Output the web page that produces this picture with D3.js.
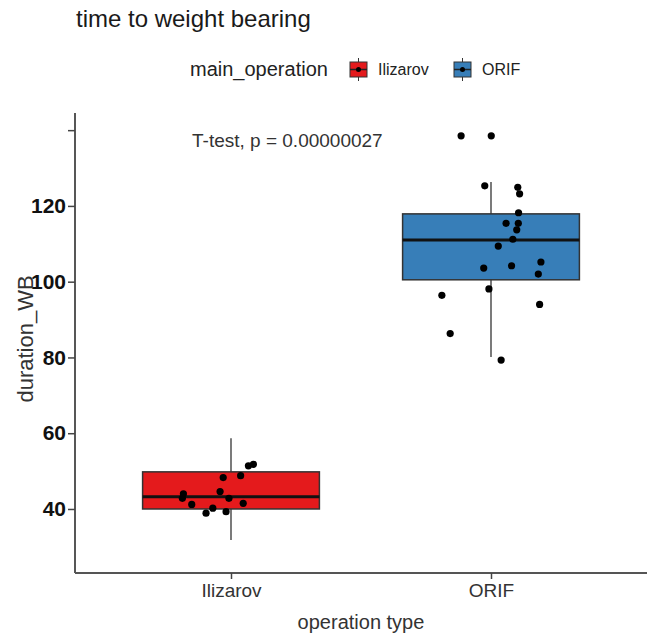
<!DOCTYPE html>
<html>
<head>
<meta charset="utf-8">
<script src="https://cdn.jsdelivr.net/npm/d3@7"></script>
<style>
  body { margin: 0; background: #fff; }
  text { font-family: "Liberation Sans", Arial, sans-serif; }
</style>
</head>
<body>
<div id="chart"></div>
<script>
const categories = ["Ilizarov", "ORIF"];
const boxColors = ["#E41A1C", "#377EB8"];

// box statistics
const whiskerLow = [31.8, 80.1];
const boxQ1 = [40.0, 100.5];
const boxMedian = [43.2, 111.0];
const boxQ3 = [49.8, 117.9];
const whiskerHigh = [58.7, 126.3];

// jittered points: value and horizontal jitter (fraction of the category step)
const ilizarovValues = [51.4, 51.8, 48.8, 48.3, 44.6, 44.0, 42.8, 42.8, 41.2, 41.5, 40.2, 38.9, 39.3];
const ilizarovJitter = [0.067, 0.086, 0.037, -0.030, -0.042, -0.183, -0.187, -0.008, -0.151, 0.047, -0.070, -0.096, -0.019];
const orifValues = [138.5, 138.5, 125.3, 124.9, 123.2, 118.2, 115.4, 115.4, 113.7, 111.2, 109.4, 103.6, 104.2, 105.2, 102.0, 98.1, 96.4, 94.0, 86.3, 79.3];
const orifJitter = [-0.115, 0.001, -0.024, 0.103, 0.110, 0.106, 0.105, 0.058, 0.099, 0.084, 0.028, -0.028, 0.079, 0.192, 0.182, -0.008, -0.189, 0.187, -0.157, 0.039];

const yTicks = [40, 60, 80, 100, 120, 140];
const yTickLabels = ["40", "60", "80", "100", "120", ""];

const width = 654, height = 637;

const svg = d3.select("#chart").append("svg")
    .attr("width", width)
    .attr("height", height);

const x = d3.scalePoint()
    .domain(categories)
    .range([75, 647])
    .padding(0.6);

const y = d3.scaleLinear()
    .domain([23.1, 144.0])
    .range([573, 115]);

const step = x.step();
const boxHalf = step * 0.34;

// title
svg.append("text")
    .attr("x", 76)
    .attr("y", 27)
    .attr("font-size", 24)
    .attr("fill", "#1a1a1a")
    .text("time to weight bearing");

// legend
const legend = svg.append("g");
legend.append("text")
    .attr("x", 190)
    .attr("y", 76)
    .attr("font-size", 20)
    .attr("fill", "#222")
    .text("main_operation");

const legendX = [350, 454];
categories.forEach(function (cat, i) {
    const k = legend.append("g").attr("transform", `translate(${legendX[i]},62)`);
    k.append("line")
        .attr("x1", 8.5).attr("x2", 8.5)
        .attr("y1", -4).attr("y2", 19)
        .attr("stroke", "#333").attr("stroke-width", 1);
    k.append("rect")
        .attr("width", 17).attr("height", 15)
        .attr("fill", boxColors[i])
        .attr("stroke", "#333").attr("stroke-width", 1);
    k.append("line")
        .attr("x1", 0).attr("x2", 17)
        .attr("y1", 7.5).attr("y2", 7.5)
        .attr("stroke", "#222").attr("stroke-width", 1.5);
    k.append("circle")
        .attr("cx", 8.5).attr("cy", 7.5).attr("r", 2.5)
        .attr("fill", "#000");
    legend.append("text")
        .attr("x", legendX[i] + 28)
        .attr("y", 75)
        .attr("font-size", 16)
        .attr("fill", "#222")
        .text(cat);
});

// axes
const yAxis = svg.append("g")
    .attr("transform", "translate(75,0)")
    .call(d3.axisLeft(y).tickValues(yTicks).tickSize(7).tickFormat((d, i) => yTickLabels[i]));
yAxis.select(".domain").attr("stroke", "#444").attr("stroke-width", 1.8)
    .attr("d", `M0,${y.range()[1] - 2}V${y.range()[0]}`);
yAxis.selectAll(".tick line").attr("stroke", "#444").attr("stroke-width", 1.5);
yAxis.selectAll(".tick text")
    .attr("x", -9)
    .attr("font-size", 21)
    .attr("font-weight", "bold")
    .attr("fill", "#111")
    .attr("font-family", "'Liberation Sans', Arial, sans-serif");

const xAxis = svg.append("g")
    .attr("transform", "translate(0,573)")
    .call(d3.axisBottom(x).tickSize(6));
xAxis.select(".domain").attr("stroke", "#555").attr("stroke-width", 2)
    .attr("d", "M75,0H647");
xAxis.selectAll(".tick line").attr("stroke", "#444").attr("stroke-width", 1.5);
xAxis.selectAll(".tick text")
    .attr("y", 11)
    .attr("font-size", 19)
    .attr("fill", "#333")
    .attr("font-family", "'Liberation Sans', Arial, sans-serif");

// axis titles
svg.append("text")
    .attr("x", 361)
    .attr("y", 629)
    .attr("text-anchor", "middle")
    .attr("font-size", 20)
    .attr("fill", "#333")
    .text("operation type");

svg.append("text")
    .attr("transform", "translate(33,339) rotate(-90)")
    .attr("text-anchor", "middle")
    .attr("font-size", 22)
    .attr("fill", "#333")
    .text("duration_WB");

// boxes
const boxes = svg.append("g");
categories.forEach(function (cat, i) {
    const cx = x(cat);
    boxes.append("line")
        .attr("x1", cx).attr("x2", cx)
        .attr("y1", y(whiskerHigh[i])).attr("y2", y(whiskerLow[i]))
        .attr("stroke", "#333").attr("stroke-width", 1.3);
    boxes.append("rect")
        .attr("x", cx - boxHalf)
        .attr("y", y(boxQ3[i]))
        .attr("width", boxHalf * 2)
        .attr("height", y(boxQ1[i]) - y(boxQ3[i]))
        .attr("fill", boxColors[i])
        .attr("stroke", "#333").attr("stroke-width", 1.5);
    boxes.append("line")
        .attr("x1", cx - boxHalf).attr("x2", cx + boxHalf)
        .attr("y1", y(boxMedian[i])).attr("y2", y(boxMedian[i]))
        .attr("stroke", "#111").attr("stroke-width", 3);
});

// points
const points = svg.append("g");
[[ilizarovValues, ilizarovJitter], [orifValues, orifJitter]].forEach(function (pair, i) {
    const cx = x(categories[i]);
    pair[0].forEach(function (v, j) {
        points.append("circle")
            .attr("cx", cx + pair[1][j] * step)
            .attr("cy", y(v))
            .attr("r", 3.6)
            .attr("fill", "#000");
    });
});

// test annotation
svg.append("text")
    .attr("x", 192)
    .attr("y", 147)
    .attr("font-size", 19)
    .attr("fill", "#333")
    .text("T-test, p = 0.00000027");
</script>
</body>
</html>
